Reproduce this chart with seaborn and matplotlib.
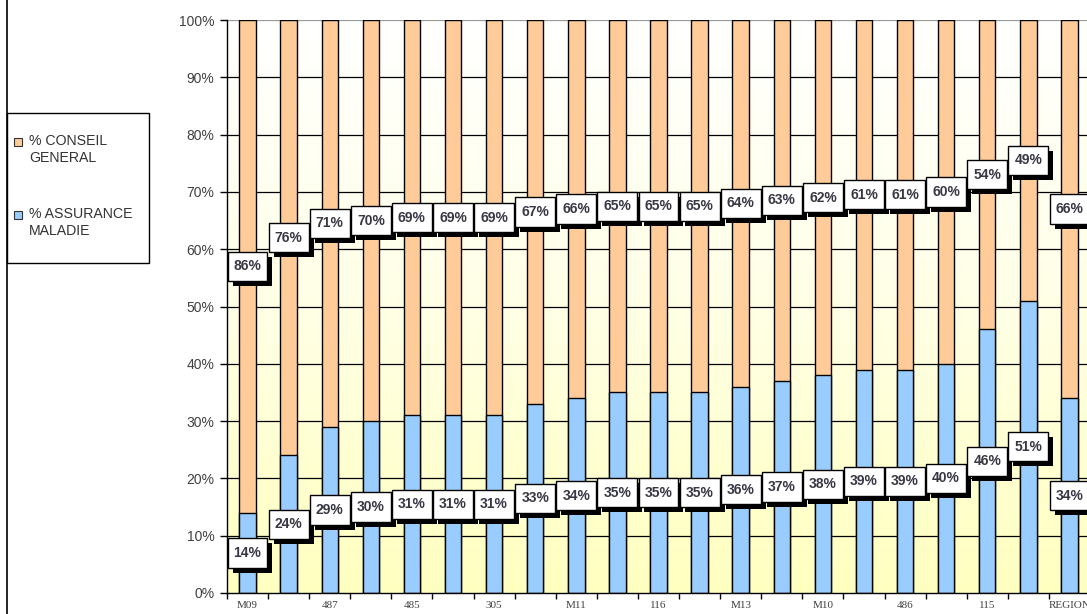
import numpy as np
import pandas as pd
import matplotlib
matplotlib.use("Agg")
import matplotlib.pyplot as plt
import matplotlib.patheffects as pe
from matplotlib.patches import Rectangle
from matplotlib.lines import Line2D
from matplotlib.colors import LinearSegmentedColormap
import seaborn as sns

# Share of funding per site (%), ordered by the Conseil Général share
tick_labels = ["M09", "", "487", "", "485", "", "305", "", "M11", "", "116", "",
               "M13", "", "M10", "", "486", "", "115", "", "REGION"]
conseil_general = [86, 76, 71, 70, 69, 69, 69, 67, 66, 65, 65, 65, 64, 63, 62, 61, 61, 60, 54, 49, 66]
assurance_maladie = [14, 24, 29, 30, 31, 31, 31, 33, 34, 35, 35, 35, 36, 37, 38, 39, 39, 40, 46, 51, 34]
series_names = ["% CONSEIL\nGENERAL", "% ASSURANCE\nMALADIE"]

ORANGE = "#FFCC99"
BLUE = "#99CCFF"

df = pd.DataFrame({
    "rang": np.arange(len(conseil_general)),
    "cg": conseil_general,
    "am": assurance_maladie,
})
df["total"] = df["cg"] + df["am"]

sns.set_style("white")
plt.rcParams["font.family"] = ["Liberation Sans", "DejaVu Sans"]

W, H = 1087, 614
fig = plt.figure(figsize=(W / 100, H / 100), dpi=100)
fig.patch.set_facecolor("white")
ax = fig.add_axes([227 / W, 21 / H, 863 / W, 573 / H])

n = len(df)
# pale yellow wash fading to white at the top of the plot area
fond = LinearSegmentedColormap.from_list("fond", ["#FFFFC0", "#FFFFE6", "#FFFFFF"])
ax.imshow(np.linspace(0, 1, 256)[:, None], extent=[-0.5, n - 0.5, 0, 100],
          origin="lower", aspect="auto", cmap=fond, zorder=0)

for v in range(10, 100, 10):
    ax.axhline(v, color="black", lw=0.9, zorder=1)
ax.axhline(100, color="#9a9a9a", lw=0.9, zorder=1)

# stacked bars: full column = Conseil Général on top of Assurance Maladie
sns.barplot(data=df, x="rang", y="total", color=ORANGE, saturation=1, width=0.4,
            edgecolor="black", linewidth=1, ax=ax, zorder=2)
sns.barplot(data=df, x="rang", y="am", color=BLUE, saturation=1, width=0.4,
            edgecolor="black", linewidth=1, ax=ax, zorder=3)

ax.set_xlim(-0.5, n - 0.5)
ax.set_ylim(0, 100)
ax.set_xlabel("")
ax.set_ylabel("")

# value boxes with a drop shadow, centred on each segment
box_w, box_h = 0.97, 5.1
shadow = [pe.SimplePatchShadow(offset=(3.6, -3.6), shadow_rgbFace="black", alpha=1.0), pe.Normal()]
for i, row in df.iterrows():
    for val, ypos in ((row["am"], row["am"] / 2), (row["cg"], row["am"] + row["cg"] / 2)):
        box = Rectangle((i - box_w / 2, ypos - box_h / 2), box_w, box_h,
                        fc="white", ec="black", lw=1, zorder=5)
        box.set_path_effects(shadow)
        ax.add_patch(box)
        ax.text(i, ypos, f"{val}%", ha="center", va="center", fontsize=10,
                fontweight="bold", color="#383845", zorder=6)

# axes styling
for s in ("top", "right"):
    ax.spines[s].set_visible(False)
for s in ("left", "bottom"):
    ax.spines[s].set_color("black")
    ax.spines[s].set_linewidth(1)
    ax.spines[s].set_zorder(4)

ax.set_yticks(range(0, 101, 10))
ax.set_yticklabels([f"{v}%" for v in range(0, 101, 10)])
ax.tick_params(axis="y", left=True, length=5, width=1, color="black", direction="out",
               pad=4, labelsize=10, labelcolor="#404040")

ax.set_xticks(np.arange(-0.5, n, 1))
ax.set_xticklabels([])
ax.tick_params(axis="x", which="major", bottom=True, length=4, width=1, color="black", direction="out")
ax.set_xticks(np.arange(n), minor=True)
ax.set_xticklabels(tick_labels, minor=True, fontfamily="Liberation Serif", fontsize=8, color="#404040")
ax.tick_params(axis="x", which="minor", bottom=True, length=0, pad=6)

# legend panel on the left
fig.add_artist(Line2D([7 / W, 7 / W], [0, 1], transform=fig.transFigure, color="black", lw=1.2))
fig.add_artist(Rectangle((7 / W, 1 - 263 / H), 142 / W, 150 / H, transform=fig.transFigure,
                         fill=False, ec="black", lw=1))
for (ytop, color, name) in ((134, ORANGE, series_names[0]), (207, BLUE, series_names[1])):
    fig.add_artist(Rectangle((14 / W, 1 - (ytop + 12) / H), 8 / W, 8 / H, transform=fig.transFigure,
                             fc=color, ec="#333333", lw=0.8))
    fig.text(29 / W, 1 - ytop / H, name, ha="left", va="top", fontsize=10.2,
             color="#333333", linespacing=1.3)

fig.savefig("out.png", dpi=100)
